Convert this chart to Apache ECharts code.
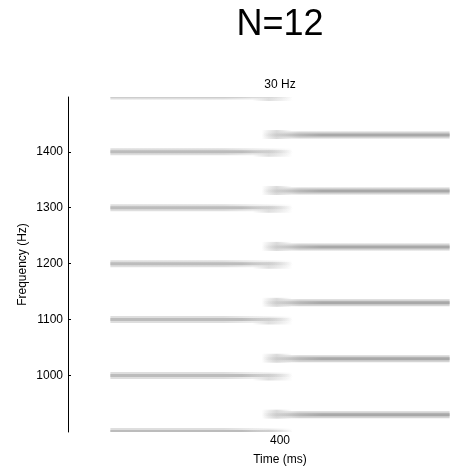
<!DOCTYPE html>
<html>
<head>
<meta charset="utf-8">
<script src="https://cdn.jsdelivr.net/npm/echarts@6/dist/echarts.min.js"></script>
<style>
html,body{margin:0;padding:0;background:#fff;overflow:hidden;width:452px;height:471px;}
#chart{width:492px;height:471px;}
</style>
</head>
<body>
<div id="chart"></div>
<script>
// ---- data ----
const titleText = 'N=12';
const shiftLabel = '30 Hz';
const leftFreqs = [900, 1000, 1100, 1200, 1300, 1400, 1500];   // Hz, first tone complex
const rightFreqs = [930, 1030, 1130, 1230, 1330, 1430];        // Hz, shifted by 30 Hz
const leftSpan = [0, 430];     // ms (visible extent incl. fade-out)
const rightSpan = [357, 800];  // ms (visible extent incl. fade-in)
const yTicks = [1000, 1100, 1200, 1300, 1400];
const xTicks = [400];

const FONT = "'Liberation Sans', Arial, sans-serif";

function grad(stops) {
  return {type: 'linear', x: 0, y: 0, x2: 1, y2: 0, global: false,
    colorStops: stops.map(function (s) { return {offset: s[0], color: s[1]}; })};
}

// style of the smeared spectrogram stripes
const LEFT = {
  halo: grad([[0, 'rgba(222,222,222,1)'], [0.62, 'rgba(222,222,222,1)'], [1, 'rgba(222,222,222,0)']]),
  core: grad([[0, 'rgba(188,188,188,1)'], [0.72, 'rgba(188,188,188,1)'], [1, 'rgba(188,188,188,0)']]),
  ghost: grad([[0, 'rgba(215,215,215,0)'], [0.4, 'rgba(215,215,215,0.8)'], [1, 'rgba(215,215,215,0)']])
};
const RIGHT = {
  halo: grad([[0, 'rgba(212,212,212,0)'], [0.2, 'rgba(212,212,212,1)'], [1, 'rgba(212,212,212,1)']]),
  core: grad([[0, 'rgba(168,168,168,0)'], [0.32, 'rgba(168,168,168,1)'], [1, 'rgba(168,168,168,1)']]),
  onset: grad([[0, 'rgba(205,205,205,0)'], [0.5, 'rgba(205,205,205,0.7)'], [1, 'rgba(205,205,205,0)']])
};

function makeRender(S, isLeft) {
  return function (params, api) {
    const p0 = api.coord([api.value(0), api.value(2)]);
    const p1 = api.coord([api.value(1), api.value(2)]);
    const x = p0[0], w = p1[0] - p0[0], y = p0[1];
    const kids = [];
    if (isLeft) {
      kids.push({type: 'rect', shape: {x: x + w * 0.78, y: y - 2, width: w * 0.22, height: 7}, style: {fill: S.ghost}});
    } else {
      kids.push({type: 'rect', shape: {x: x, y: y - 5, width: w * 0.16, height: 9}, style: {fill: S.onset}});
    }
    kids.push({type: 'rect', shape: {x: x, y: y - 3.5, width: w, height: 7}, style: {fill: S.halo}});
    kids.push({type: 'rect', shape: {x: x, y: y - 1.5, width: w, height: 3}, style: {fill: S.core}});
    return {type: 'group', children: kids};
  };
}

const leftData = leftFreqs.map(function (f) { return [leftSpan[0], leftSpan[1], f]; });
const rightData = rightFreqs.map(function (f) { return [rightSpan[0], rightSpan[1], f]; });

const chart = echarts.init(document.getElementById('chart'), null, {renderer: 'canvas'});
chart.setOption({
  backgroundColor: '#ffffff',
  animation: false,
  grid: {left: 68, top: 97, right: 0, bottom: 39, containLabel: false},
  xAxis: {
    type: 'value', min: -100, max: 900,
    axisLine: {show: false, onZero: false}, axisTick: {show: false}, splitLine: {show: false},
    axisLabel: {customValues: xTicks, color: '#000', fontFamily: FONT, fontSize: 12, margin: 3,
                formatter: function (v) { return String(v); }},
    name: 'Time (ms)', nameLocation: 'middle', nameGap: 22, nameMoveOverlap: false,
    nameTextStyle: {color: '#000', fontFamily: FONT, fontSize: 12}
  },
  yAxis: {
    type: 'value', min: 899, max: 1498,
    axisLine: {show: true, onZero: false, lineStyle: {color: '#000', width: 1}},
    axisTick: {show: true, inside: true, length: 3, customValues: yTicks, lineStyle: {color: '#000'}},
    splitLine: {show: false},
    axisLabel: {customValues: yTicks, color: '#000', fontFamily: FONT, fontSize: 12, margin: 5,
                formatter: function (v) { return String(v); }},
    name: 'Frequency (Hz)', nameLocation: 'middle', nameGap: 39, nameMoveOverlap: false,
    nameTextStyle: {color: '#000', fontFamily: FONT, fontSize: 12}
  },
  graphic: [
    {type: 'text', x: 280, y: 25, silent: true,
     style: {text: titleText, fill: '#000', font: '36px ' + FONT, textAlign: 'center', textVerticalAlign: 'middle'}},
    {type: 'text', x: 280, y: 85, silent: true,
     style: {text: shiftLabel, fill: '#000', font: '12px ' + FONT, textAlign: 'center', textVerticalAlign: 'middle'}}
  ],
  series: [
    {type: 'custom', name: 'before', silent: true, clip: true, data: leftData,
     encode: {x: [0, 1], y: 2}, renderItem: makeRender(LEFT, true), z: 2},
    {type: 'custom', name: 'after', silent: true, clip: true, data: rightData,
     encode: {x: [0, 1], y: 2}, renderItem: makeRender(RIGHT, false), z: 2}
  ]
});
</script>
</body>
</html>
